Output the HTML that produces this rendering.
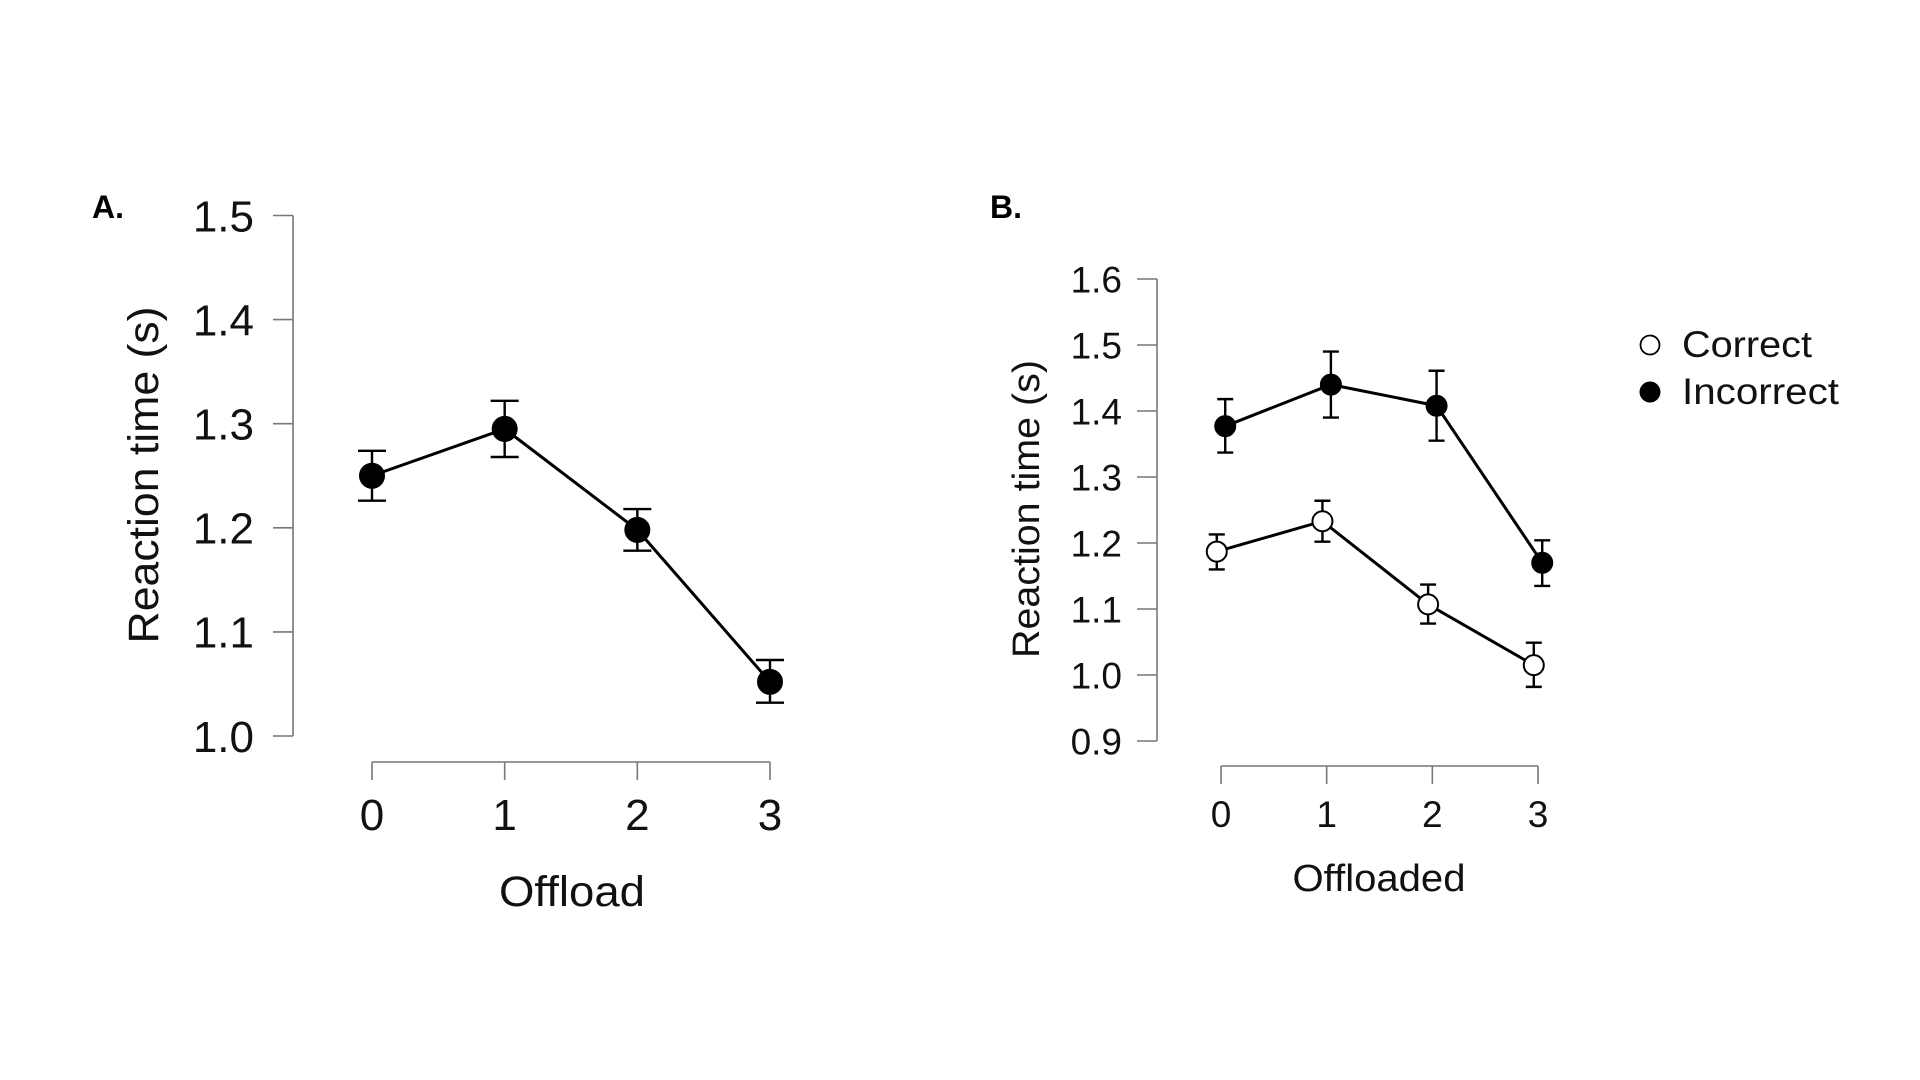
<!DOCTYPE html>
<html><head><meta charset="utf-8"><style>
html,body{margin:0;padding:0;background:#fff;width:1920px;height:1080px;overflow:hidden}
svg{display:block;font-family:"Liberation Sans",sans-serif}
</style></head><body>
<svg id="chart" width="1920" height="1080" viewBox="0 0 1920 1080"></svg>
<script>
// Panel A data
const catsA = [0, 1, 2, 3];
const meanA = [1.250, 1.295, 1.198, 1.052];
const loA = [1.226, 1.268, 1.178, 1.032];
const hiA = [1.274, 1.322, 1.218, 1.073];
const ticksA = [1.0, 1.1, 1.2, 1.3, 1.4, 1.5];
// Panel B data
const catsB = [0, 1, 2, 3];
const corrMean = [1.187, 1.233, 1.107, 1.015];
const corrLo = [1.160, 1.202, 1.078, 0.982];
const corrHi = [1.213, 1.264, 1.137, 1.049];
const incMean = [1.377, 1.440, 1.408, 1.170];
const incLo = [1.337, 1.390, 1.355, 1.135];
const incHi = [1.418, 1.490, 1.461, 1.204];
const ticksB = [0.9, 1.0, 1.1, 1.2, 1.3, 1.4, 1.5, 1.6];

const NS = "http://www.w3.org/2000/svg";
const svg = document.getElementById('chart');
function mk(tag, attrs, parent, text) {
  const e = document.createElementNS(NS, tag);
  for (const k in attrs) e.setAttribute(k, attrs[k]);
  if (text !== undefined) e.textContent = text;
  (parent || svg).appendChild(e);
  return e;
}

function panel(cfg) {
  const g = mk('g', {});
  
  
  const y = v => cfg.y0 + (v - cfg.vmin) / (cfg.vmax - cfg.vmin) * (cfg.y1 - cfg.y0);
  const x = c => cfg.x0 + (c - cfg.cmin) / (cfg.cmax - cfg.cmin) * (cfg.x1 - cfg.x0);
  const ya = mk('line', {x1: cfg.ax, x2: cfg.ax, y1: y(cfg.vmin), y2: y(cfg.vmax), stroke: '#777', 'stroke-width': 1.6}, g);
  
  
  cfg.yticks.forEach(t => {
    const tk = mk('line', {x1: cfg.ax - 20, x2: cfg.ax, y1: y(t), y2: y(t), stroke: '#777', 'stroke-width': 1.6}, g);
    
    
    const lb = mk('text', {x: cfg.ax - cfg.lblgap, y: y(t) + cfg.fs * 0.36, 'text-anchor': 'end', 'font-size': cfg.fs, fill: '#111'}, g, t.toFixed(1));
    
    
  });
  const xa = mk('line', {x1: x(cfg.cats[0]), x2: x(cfg.cats[cfg.cats.length - 1]), y1: cfg.xay, y2: cfg.xay, stroke: '#777', 'stroke-width': 1.6}, g);
  
  
  cfg.cats.forEach(c => {
    const tk = mk('line', {x1: x(c), x2: x(c), y1: cfg.xay, y2: cfg.xay + 18, stroke: '#777', 'stroke-width': 1.6}, g);
    
    
    const lb = mk('text', {x: x(c), y: cfg.xlby, 'text-anchor': 'middle', 'font-size': cfg.fs, fill: '#111'}, g, String(c));
    
    
  });
  const xt = mk('text', {x: cfg.xtx, y: cfg.xty, 'text-anchor': 'middle', 'font-size': cfg.tfs, fill: '#111', textLength: cfg.xtl, lengthAdjust: 'spacingAndGlyphs'}, g, cfg.xtitle);
  
  
  const yt = mk('text', {x: 0, y: 0, 'text-anchor': 'middle', 'font-size': cfg.tfs, fill: '#111', textLength: cfg.ytl, lengthAdjust: 'spacingAndGlyphs', transform: `translate(${cfg.ytx},${cfg.yty}) rotate(-90)`}, g, 'Reaction time (s)');
  
  
  const pl = mk('text', {x: cfg.plx, y: cfg.ply, 'font-size': 32, 'font-weight': 'bold', fill: '#000'}, g, cfg.plabel);
  
  
  cfg.series.forEach(s => {
    const sg = mk('g', {}, g);
    
    
    const pts = cfg.cats.map((c, i) => [x(c + s.dodge), y(s.mean[i])]);
    const ln = mk('polyline', {points: pts.map(p => p.join(',')).join(' '), fill: 'none', stroke: '#000', 'stroke-width': 3}, sg);
    
    
    cfg.cats.forEach((c, i) => {
      const px = x(c + s.dodge);
      const eb = mk('path', {d: `M${px},${y(s.lo[i])}V${y(s.hi[i])}M${px - cfg.cap},${y(s.lo[i])}H${px + cfg.cap}M${px - cfg.cap},${y(s.hi[i])}H${px + cfg.cap}`, stroke: '#000', 'stroke-width': 2.4, fill: 'none'}, sg);
      
      
      const pt = mk('circle', {cx: px, cy: y(s.mean[i]), r: cfg.r, fill: s.fill, stroke: '#000', 'stroke-width': 2}, sg);
      
      
    });
  });
}

panel({name: 'panel-a', vmin: 1.0, vmax: 1.5, y0: 736, y1: 215.5, cmin: 0, cmax: 3, x0: 372, x1: 770,
  ax: 293, xay: 762, xlby: 830, cats: catsA, yticks: ticksA, fs: 44, tfs: 43, lblgap: 39,
  xtitle: 'Offload', xtx: 572, xty: 906, xtl: 146, ytx: 158, yty: 475, ytl: 337, plabel: 'A.', plx: 92, ply: 218,
  cap: 14, r: 12,
  series: [{name: 'series-offload', mean: meanA, lo: loA, hi: hiA, fill: '#000', dodge: 0}]});

panel({name: 'panel-b', vmin: 0.9, vmax: 1.6, y0: 741, y1: 279, cmin: 0, cmax: 3, x0: 1221, x1: 1538,
  ax: 1157, xay: 766, xlby: 827, cats: catsB, yticks: ticksB, fs: 37, tfs: 38, lblgap: 35,
  xtitle: 'Offloaded', xtx: 1379, xty: 891, xtl: 173, ytx: 1039, yty: 509, ytl: 298, plabel: 'B.', plx: 990, ply: 218,
  cap: 8, r: 10,
  series: [
    {name: 'series-correct', mean: corrMean, lo: corrLo, hi: corrHi, fill: '#fff', dodge: -0.04},
    {name: 'series-incorrect', mean: incMean, lo: incLo, hi: incHi, fill: '#000', dodge: 0.04}
  ]});

const lg = mk('g', {});


const e1 = mk('g', {}, lg);


mk('circle', {cx: 1650, cy: 345, r: 9.5, fill: '#fff', stroke: '#000', 'stroke-width': 1.8}, e1);
mk('text', {x: 1682, y: 357, 'font-size': 37, fill: '#111', textLength: 130, lengthAdjust: 'spacingAndGlyphs'}, e1, 'Correct');
const e2 = mk('g', {}, lg);


mk('circle', {cx: 1650, cy: 392, r: 10.5, fill: '#000'}, e2);
mk('text', {x: 1682, y: 404, 'font-size': 37, fill: '#111', textLength: 157, lengthAdjust: 'spacingAndGlyphs'}, e2, 'Incorrect');
</script>
</body></html>
